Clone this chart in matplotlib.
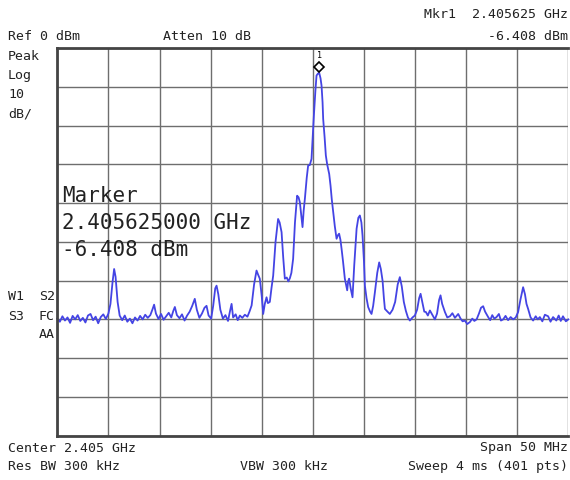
import matplotlib
matplotlib.use("Agg")
import matplotlib.pyplot as plt
from matplotlib import transforms

# sweep settings
center_ghz = 2.405
span_mhz = 50
ref_dbm = 0
db_per_div = 10
marker_ghz = 2.405625
marker_dbm = -6.408

# trace: offset from center (MHz) and level (dBm)
freq_off = [
    -25.00, -24.75, -24.50, -24.25, -24.00, -23.75, -23.50, -23.25, -23.00, -22.75,
    -22.50, -22.25, -22.00, -21.75, -21.50, -21.25, -21.00, -20.75, -20.50, -20.25,
    -20.00, -19.80, -19.60, -19.44, -19.30, -19.10, -18.90, -18.65, -18.40, -18.15,
    -17.90, -17.65, -17.40, -17.15, -16.90, -16.65, -16.40, -16.15, -15.90, -15.70,
    -15.53, -15.35, -15.10, -14.85, -14.60, -14.35, -14.10, -13.85, -13.65, -13.50,
    -13.30, -13.05, -12.80, -12.55, -12.30, -12.05, -11.80, -11.55, -11.35, -11.10,
    -10.85, -10.60, -10.40, -10.20, -9.95, -9.75, -9.55, -9.42, -9.25, -9.05,
    -8.80, -8.55, -8.30, -8.10, -7.95, -7.80, -7.55, -7.35, -7.14, -6.90,
    -6.65, -6.40, -6.20, -5.99, -5.75, -5.51, -5.35, -5.19, -5.00, -4.86,
    -4.70, -4.53, -4.40, -4.21, -4.05, -3.88, -3.65, -3.40, -3.25, -3.06,
    -2.90, -2.74, -2.55, -2.40, -2.25, -2.10, -1.93, -1.75, -1.54, -1.40,
    -1.27, -1.10, -1.01, -0.90, -0.78, -0.60, -0.46, -0.30, -0.13, 0.00,
    0.10, 0.25, 0.36, 0.50, 0.62, 0.75, 0.85, 0.95, 1.01, 1.15,
    1.27, 1.40, 1.50, 1.60, 1.73, 1.85, 1.99, 2.15, 2.32, 2.45,
    2.57, 2.70, 2.81, 2.95, 3.13, 3.25, 3.36, 3.45, 3.55, 3.70,
    3.88, 4.05, 4.28, 4.45, 4.60, 4.75, 4.86, 5.00, 5.09, 5.25,
    5.41, 5.60, 5.74, 5.90, 6.07, 6.30, 6.49, 6.65, 6.82, 6.95,
    7.05, 7.30, 7.53, 7.80, 8.05, 8.30, 8.51, 8.70, 8.90, 9.10,
    9.30, 9.49, 9.75, 9.98, 10.20, 10.40, 10.54, 10.70, 10.90, 11.06,
    11.25, 11.45, 11.70, 11.94, 12.15, 12.35, 12.49, 12.65, 12.92, 13.15,
    13.41, 13.65, 13.90, 14.22, 14.45, 14.65, 14.87, 15.10, 15.36, 15.60,
    15.80, 16.02, 16.25, 16.45, 16.66, 16.85, 17.15, 17.35, 17.55, 17.75,
    17.97, 18.20, 18.40, 18.62, 18.85, 19.10, 19.35, 19.59, 19.85, 20.08,
    20.30, 20.57, 20.75, 20.90, 21.06, 21.30, 21.55, 21.80, 22.00, 22.21,
    22.45, 22.70, 23.02, 23.25, 23.50, 23.82, 24.05, 24.25, 24.47, 24.75,
    25.00,
]
level_dbm = [
    -69.8, -70.6, -69.2, -70.3, -69.5, -70.9, -69.1, -70.0, -68.9, -70.4,
    -69.6, -70.8, -69.0, -68.6, -70.2, -69.3, -71.0, -69.4, -68.7, -69.9,
    -68.5, -66.0, -60.5, -57.0, -59.0, -65.5, -69.0, -70.2, -69.0, -70.6,
    -69.8, -71.0, -69.5, -70.3, -69.1, -70.0, -68.8, -69.6, -68.9, -67.5,
    -66.2, -68.5, -69.9, -68.6, -70.1, -69.2, -68.3, -69.5, -67.8, -66.8,
    -68.9, -69.7, -68.7, -70.3, -69.0, -68.0, -66.5, -64.7, -67.5, -69.6,
    -68.5, -67.0, -66.5, -69.0, -69.8, -66.5, -62.0, -61.3, -63.5, -67.5,
    -69.8, -68.9, -70.4, -67.8, -66.0, -69.5, -68.7, -70.2, -69.0, -69.6,
    -68.8, -69.3, -68.0, -66.4, -61.0, -57.4, -58.5, -59.5, -64.0, -68.6,
    -66.0, -64.3, -65.8, -65.5, -62.0, -58.7, -50.0, -44.1, -45.0, -47.5,
    -54.0, -59.5, -59.2, -60.2, -59.4, -58.0, -54.4, -45.0, -38.1, -38.5,
    -39.8, -44.0, -46.2, -42.0, -38.9, -33.5, -30.3, -30.2, -28.6, -22.0,
    -17.4, -11.0, -7.1, -6.6, -6.4, -7.8, -9.7, -14.0, -18.3, -23.0,
    -27.7, -30.0, -31.2, -32.5, -35.5, -39.0, -42.3, -46.0, -49.2, -48.3,
    -47.9, -49.5, -51.8, -55.0, -59.5, -61.0, -62.5, -60.2, -59.5, -62.0,
    -64.3, -56.0, -46.6, -43.8, -43.2, -45.0, -48.4, -55.0, -61.3, -64.5,
    -66.8, -68.0, -68.6, -66.5, -63.0, -58.0, -55.3, -57.0, -60.0, -64.5,
    -67.3, -68.0, -68.6, -67.5, -65.5, -61.0, -59.1, -61.5, -65.5, -67.8,
    -69.5, -70.3, -69.5, -69.0, -67.5, -64.5, -63.4, -65.5, -68.0, -68.1,
    -69.0, -67.7, -68.9, -70.0, -68.5, -65.0, -63.8, -66.0, -68.1, -69.5,
    -69.2, -68.4, -69.6, -68.6, -69.8, -70.5, -70.3, -71.2, -70.7, -69.8,
    -70.4, -70.0, -68.5, -67.0, -66.6, -68.0, -69.4, -70.2, -68.9, -69.8,
    -69.4, -68.6, -70.3, -70.0, -69.1, -70.2, -69.4, -70.0, -69.5, -68.1,
    -65.0, -61.7, -63.5, -66.0, -67.3, -69.5, -70.3, -69.2, -70.0, -69.4,
    -70.5, -68.8, -69.2, -70.6, -69.4, -70.3, -69.0, -70.4, -69.2, -70.5,
    -70.0,
]

W, H = 570, 481
fig = plt.figure(figsize=(W / 100, H / 100), dpi=100)
fig.patch.set_facecolor("white")

# graticule box in pixels (left, top, right, bottom)
gl, gt, gr, gb = 57.3, 49.0, 568.4, 436.7
ax = fig.add_axes([gl / W, 1 - gb / H, (gr - gl) / W, (gb - gt) / H])

half = span_mhz / 2
ax.set_xlim(-half, half)
ax.set_ylim(ref_dbm - 10 * db_per_div, ref_dbm)
ax.set_xticks([-half + i * span_mhz / 10 for i in range(11)])
ax.set_yticks([ref_dbm - i * db_per_div for i in range(11)])
ax.tick_params(length=0, labelbottom=False, labelleft=False)
ax.grid(True, color="#6e6e6e", linewidth=1.0)
ax.set_axisbelow(True)
for side in ["left", "top", "bottom"]:
    ax.spines[side].set_color("#444444")
    ax.spines[side].set_linewidth(2.0)
ax.spines["right"].set_visible(False)

ax.plot(freq_off, level_dbm, color="#4444e4", linewidth=1.3, clip_on=False)

# marker diamond sits a little above the trace peak
mk_x = (marker_ghz - center_ghz) * 1000
lift = transforms.offset_copy(ax.transData, fig=fig, y=4, units="points")
ax.plot([mk_x], [marker_dbm], marker="D", markersize=5, markerfacecolor="white",
        markeredgecolor="black", markeredgewidth=1.2, transform=lift, zorder=5)
ax.annotate("1", (mk_x, marker_dbm), xytext=(0, 10), textcoords="offset points",
            ha="center", va="bottom", fontsize=6, family="DejaVu Sans Mono")

mono = "DejaVu Sans Mono"


def put(x, y, s, ha="left", size=9.5):
    fig.text(x / W, 1 - y / H, s, ha=ha, va="center", fontsize=size,
             family=mono, color="#222222")


put(568, 14, "Mkr1  2.405625 GHz", ha="right")
put(8, 37, "Ref 0 dBm")
put(163, 37, "Atten 10 dB")
put(568, 37, "-6.408 dBm", ha="right")
put(8, 56, "Peak")
put(8, 76, "Log")
put(8, 95, "10")
put(8, 114, "dB/")
put(8, 297, "W1")
put(55, 297, "S2", ha="right")
put(8, 316, "S3")
put(55, 316, "FC", ha="right")
put(55, 335, "AA", ha="right")
put(8, 448, "Center 2.405 GHz")
put(568, 448, "Span 50 MHz", ha="right")
put(8, 467, "Res BW 300 kHz")
put(240, 467, "VBW 300 kHz")
put(568, 467, "Sweep 4 ms (401 pts)", ha="right")

put(62, 196, "Marker", size=15)
put(62, 223, "%.9f GHz" % marker_ghz, size=15)
put(62, 250, "%.3f dBm" % marker_dbm, size=15)

fig.savefig("out.png", dpi=100)
